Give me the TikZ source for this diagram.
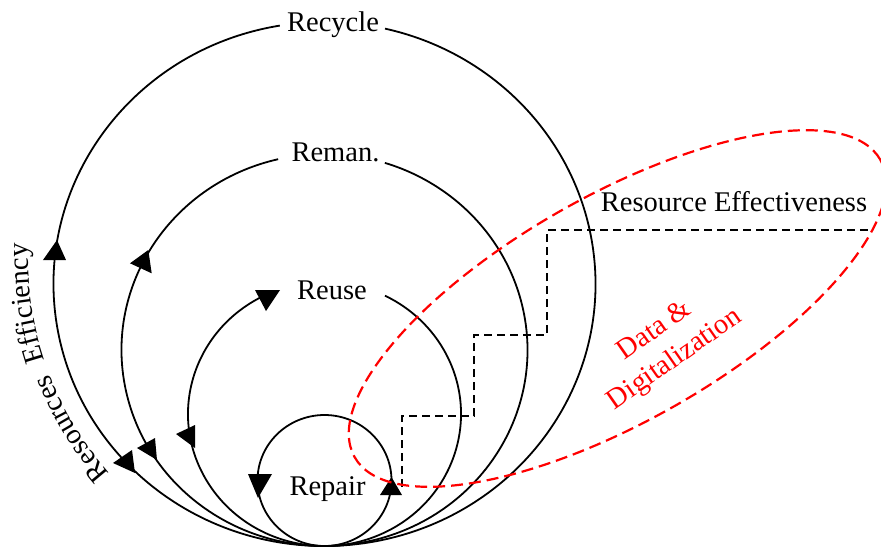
\documentclass[tikz,border=0pt]{standalone}
\usepackage{fontspec}
\setmainfont{Liberation Serif}
\usetikzlibrary{decorations.text}
\newcommand\labfont{\fontsize{14.25}{17.5}\selectfont}
\begin{document}
\begin{tikzpicture}[x=0.5pt,y=0.5pt,
  loop/.style={line width=0.9pt, black},
  head/.style={fill=black, draw=none},
  lbl/.style={font=\labfont, inner sep=0pt, anchor=base},
  stairs/.style={line width=0.9pt, black, dash pattern=on 4pt off 2.5pt},
  cloud/.style={line width=1.1pt, red, dash pattern=on 6pt off 3pt}]
\useasboundingbox (-324.5,-2) rectangle (556.5,546);

% loops, all touching at the origin
\draw[loop] ([shift={(0,262)}]99.5:271 and 262) arc[start angle=99.5, end angle=437.1, x radius=271, y radius=262];
\draw[loop] ([shift={(0,196)}]103.2:203 and 196) arc[start angle=103.2, end angle=432.7, x radius=203, y radius=196];
\draw[loop] ([shift={(0,132)}]117:136.5 and 132) arc[start angle=117, end angle=423.7, x radius=136.5, y radius=132];
\draw[loop] (0,65.5) ellipse[x radius=67, y radius=65.5];

% arrowheads
\fill[head] (-267.5,306) -- (-281.5,286) -- (-258.5,286) -- cycle;
\fill[head] (-176.2,296) -- (-194.5,282.7) -- (-172.8,272.7) -- cycle;
\fill[head] (-69.5,256) -- (-44.5,256) -- (-58.5,235) -- cycle;
\fill[head] (-211.5,83) -- (-192.5,96) -- (-189.5,73) -- cycle;
\fill[head] (-187.5,98) -- (-169.5,108) -- (-167.5,86) -- cycle;
\fill[head] (-148.5,112) -- (-129.5,121) -- (-129.5,98) -- cycle;
\fill[head] (-76.5,72) -- (-52.5,72) -- (-66.5,48) -- cycle;
\fill[head] (67,69) -- (55.5,51) -- (77.5,51) -- cycle;

% loop labels
\node[lbl] (recycle) at (8.5,514.5) {Recycle};
\node[lbl] (reman) at (11,384.3) {Reman.};
\node[lbl] (reuse) at (7.5,246.7) {Reuse};
\node[lbl] (repair) at (3,51) {Repair};

% curved side caption
\path[decorate, decoration={text along path, text align=center,
  text={|\labfont|Resources{\ }{\ }Efficiency}}]
  ([shift={(30,288.6)}]222:326.5) arc[start angle=222, end angle=177, radius=326.5];

% effectiveness staircase
\coordinate (s0) at (77.5,59);
\coordinate (s1) at (77.5,130);
\coordinate (s2) at (149.5,130);
\coordinate (s3) at (149.5,211);
\coordinate (s4) at (222.5,211);
\coordinate (s5) at (222.5,316);
\coordinate (s6) at (548.5,316);
\draw[stairs] (s0) -- (s1) -- (s2) -- (s3) -- (s4) -- (s5) -- (s6);
\node[lbl] (effect) at (409.5,334.3) {Resource Effectiveness};

% data region
\draw[cloud, rotate around={29.5:(293,237.5)}] (293,237.5) ellipse[x radius=302, y radius=113];
\node[font=\labfont, inner sep=0pt, red, rotate=35, align=center] (data) at (340.8,200.5) {Data \&\\Digitalization};
\end{tikzpicture}
\end{document}
